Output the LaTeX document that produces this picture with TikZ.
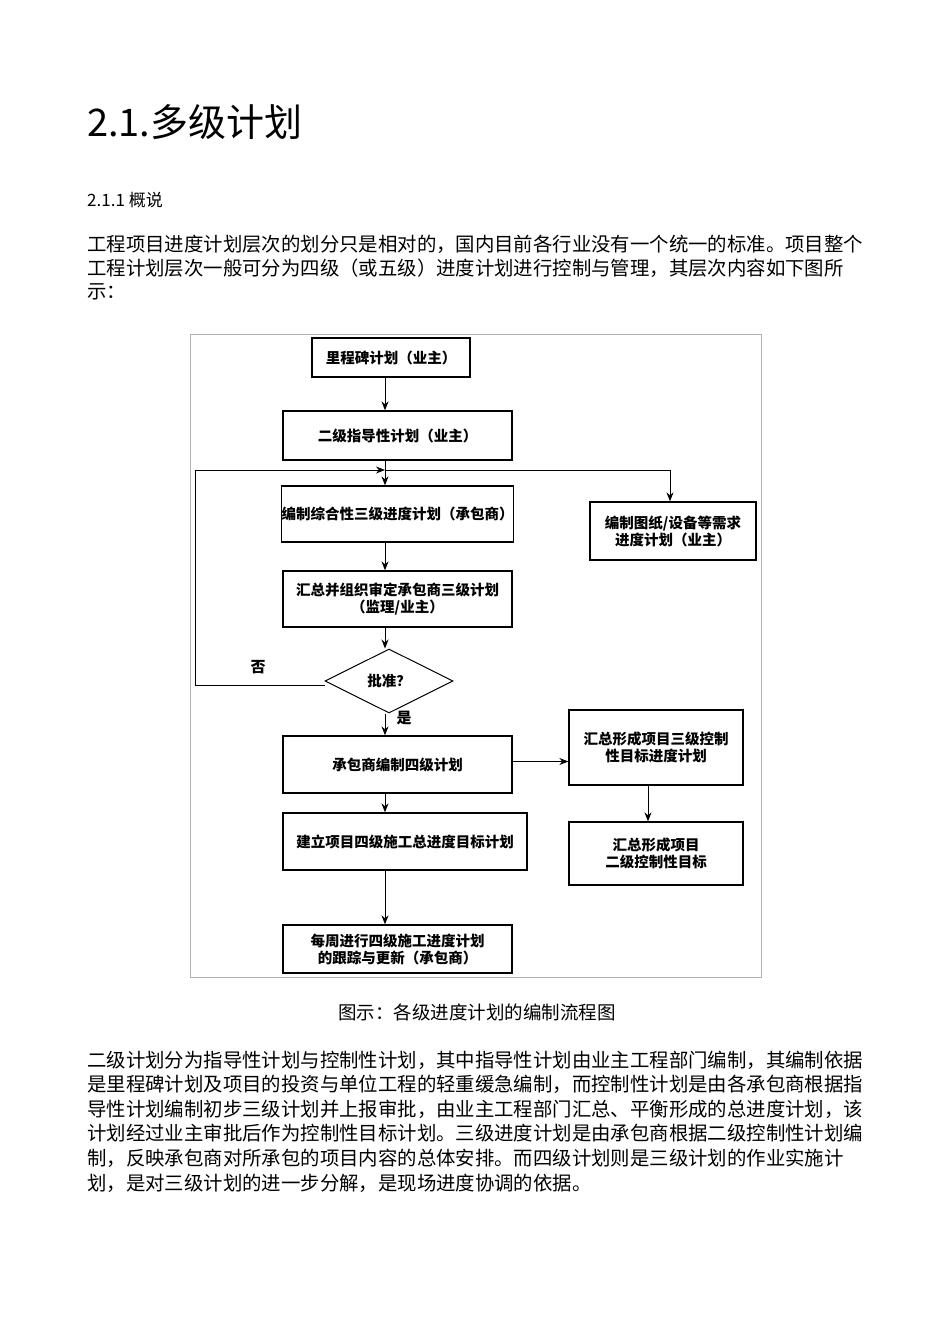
\documentclass[tikz,border=0pt]{standalone}
\usepackage{fontspec}
\setmainfont{Noto Sans CJK SC}
\usetikzlibrary{shapes.geometric,arrows.meta}
\begin{document}
\begin{tikzpicture}[x=1pt,y=-1pt,
  fbox/.style={draw,line width=1.3pt,inner sep=0pt,align=center,font=\fontsize{14.5pt}{17pt}\selectfont\bfseries},
  arr/.style={line width=1pt,-{Stealth[length=9pt,width=7pt]}},
  txt/.style={anchor=west,inner sep=0pt,font=\fontsize{19.4pt}{22pt}\selectfont}]
\useasboundingbox (0,0) rectangle (950,1344);
\fill[white] (0,0) rectangle (950,1344);
\node[anchor=west,inner sep=0pt,font=\fontsize{38pt}{40pt}\selectfont] (title) at (87,122) {2.1.多级计划};
\node[anchor=west,inner sep=0pt,font=\fontsize{17pt}{19pt}\selectfont] (sub) at (87,200) {2.1.1 概说};
\node[txt] (p1) at (87,244) {工程项目进度计划层次的划分只是相对的，国内目前各行业没有一个统一的标准。项目整个};
\node[txt] (p2) at (87,268) {工程计划层次一般可分为四级（或五级）进度计划进行控制与管理，其层次内容如下图所};
\node[txt] (p3) at (87,292) {示：};
\draw[gray!60,line width=0.8pt] (190,334) rectangle (761,977);
\node[fbox,minimum width=158pt,minimum height=39pt] (b1) at (391,357.5) {里程碑计划（业主）};
\node[fbox,minimum width=229pt,minimum height=49pt] (b2) at (397.5,435.5) {二级指导性计划（业主）};
\node[fbox,minimum width=229pt,minimum height=56pt] (b3) at (397.5,514) {编制综合性三级进度计划（承包商）};
\node[fbox,minimum width=166pt,minimum height=58pt] (br) at (673,531) {编制图纸/设备等需求\\进度计划（业主）};
\node[fbox,minimum width=229pt,minimum height=56pt] (b4) at (397.5,599) {汇总并组织审定承包商三级计划\\（监理/业主）};
\node[fbox,diamond,aspect=2,minimum width=128pt,minimum height=64pt,line width=1pt] (d) at (389,681) {批准？};
\node[fbox,minimum width=229pt,minimum height=57pt] (b5) at (397.5,764.5) {承包商编制四级计划};
\node[fbox,minimum width=174pt,minimum height=75pt] (b6) at (656,747.5) {汇总形成项目三级控制\\性目标进度计划};
\node[fbox,minimum width=174pt,minimum height=63pt] (b7) at (656,853.5) {汇总形成项目\\二级控制性目标};
\node[fbox,minimum width=244pt,minimum height=57pt] (b8) at (405,841.5) {建立项目四级施工总进度目标计划};
\node[fbox,minimum width=229pt,minimum height=48pt] (b9) at (397.5,949) {每周进行四级施工进度计划\\的跟踪与更新（承包商）};
\coordinate (ax) at (385,0);
\coordinate (j) at (385,470);
\coordinate (lt) at (195,470);
\coordinate (lb) at (195,685);
\coordinate (rt) at (670,470);
\draw[arr] (b1.south-|ax) -- (b2.north-|ax);
\draw[arr] (b2.south-|ax) -- (b3.north-|ax);
\draw[arr] (d.west|-lb) -- (lb) -- (lt) -- (j);
\draw[arr] (j) -- (rt) -- (br.north-|rt);
\draw[arr] (b3.south-|ax) -- (b4.north-|ax);
\draw[arr] (b4.south-|ax) -- (d.north-|ax);
\draw[arr] (d.south-|ax) -- (b5.north-|ax);
\draw[arr] (b5.east|-b6.west) ++(0,14) coordinate (e5) -- (b6.west|-e5);
\draw[arr] (b6.south-|648,0) -- (b7.north-|648,0);
\draw[arr] (b5.south-|ax) -- (b8.north-|ax);
\draw[arr] (b8.south-|ax) -- (b9.north-|ax);
\node[font=\fontsize{15pt}{17pt}\selectfont\bfseries] (no) at (258,667) {否};
\node[font=\fontsize{15pt}{17pt}\selectfont\bfseries] (yes) at (404,718) {是};
\node[inner sep=0pt,font=\fontsize{18.5pt}{20pt}\selectfont] (cap) at (477,1012) {图示：各级进度计划的编制流程图};
\node[txt] (q1) at (87,1060) {二级计划分为指导性计划与控制性计划，其中指导性计划由业主工程部门编制，其编制依据};
\node[txt] (q2) at (87,1084) {是里程碑计划及项目的投资与单位工程的轻重缓急编制，而控制性计划是由各承包商根据指};
\node[txt] (q3) at (87,1109) {导性计划编制初步三级计划并上报审批，由业主工程部门汇总、平衡形成的总进度计划，该};
\node[txt] (q4) at (87,1133) {计划经过业主审批后作为控制性目标计划。三级进度计划是由承包商根据二级控制性计划编};
\node[txt] (q5) at (87,1158) {制，反映承包商对所承包的项目内容的总体安排。而四级计划则是三级计划的作业实施计};
\node[txt] (q6) at (87,1183) {划，是对三级计划的进一步分解，是现场进度协调的依据。};
\end{tikzpicture}
\end{document}
